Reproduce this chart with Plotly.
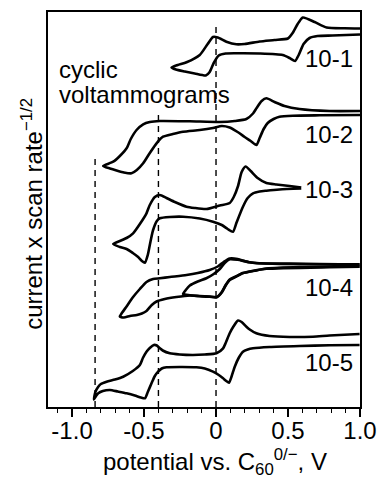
import plotly.graph_objects as go

# Cyclic voltammograms: potential (V vs. C60 0/-) and current (arb. units),
# each loop written as the positive-side start -> switching potential -> back.
cv1_potential = [1.0, 0.893, 0.768, 0.685, 0.603, 0.567, 0.532, 0.499, 0.406, 0.303,
                 0.199, 0.141, 0.072, 0.012, -0.021, -0.058, -0.113, -0.205, -0.266, -0.309,
                 -0.279, -0.217, -0.148, -0.071, -0.044, -0.016, 0.019, 0.067, 0.164, 0.303,
                 0.463, 0.511, 0.549, 0.574, 0.608, 0.650, 0.705, 0.809, 1.0]
cv1_current = [0.85, 0.87, 0.95, 1.5, 1.95, 1.3, 0.4, -0.15, -0.3, -0.45,
               -0.7, -0.73, -0.47, -0.05, 0.0, -0.7, -1.8, -2.53, -2.8, -3.05,
               -3.25, -3.45, -3.65, -3.85, -3.5, -2.6, -1.85, -1.65, -1.63, -1.65,
               -1.8, -2.1, -2.4, -1.8, -0.7, -0.1, 0.1, 0.15, 0.25]

cv2_potential = [1.0, 0.788, 0.580, 0.476, 0.407, 0.350, 0.317, 0.282, 0.257, 0.211,
                 0.130, 0.026, -0.182, -0.390, -0.460, -0.506, -0.552, -0.592, -0.621, -0.668,
                 -0.714, -0.784, -0.737, -0.691, -0.640, -0.587, -0.550, -0.506, -0.460, -0.413,
                 -0.368, -0.300, -0.229, -0.113, -0.021, 0.040, 0.095, 0.150, 0.199, 0.241,
                 0.280, 0.303, 0.331, 0.359, 0.400, 0.441, 0.534, 0.720, 1.0]
cv2_current = [0.6, 0.6, 0.8, 1.1, 1.5, 1.87, 1.6, 0.9, 0.35, -0.2,
               -0.4, -0.5, -0.43, -0.4, -0.5, -0.73, -1.3, -2.2, -3.13, -3.9,
               -4.47, -4.9, -5.15, -5.35, -5.55, -5.63, -5.3, -4.63, -3.6, -2.63,
               -1.97, -1.7, -1.47, -1.3, -1.1, -0.9, -1.05, -1.5, -2.0, -2.4,
               -2.8, -2.1, -1.2, -0.6, -0.2, 0.03, 0.13, 0.17, 0.2]

cv3_potential = [0.592, 0.511, 0.419, 0.350, 0.289, 0.241, 0.206, 0.178, 0.153, 0.123,
                 0.095, 0.026, -0.067, -0.148, -0.205, -0.286, -0.344, -0.390, -0.425, -0.460,
                 -0.483, -0.529, -0.576, -0.621, -0.668, -0.714,
                 -0.668, -0.621, -0.578, -0.541, -0.515, -0.494, -0.474, -0.453, -0.437, -0.411,
                 -0.390, -0.321, -0.229, -0.113, -0.021, 0.040, 0.081, 0.118, 0.144, 0.187,
                 0.220, 0.257, 0.303, 0.350, 0.441, 0.592]
cv3_current = [0.25, 0.4, 0.55, 0.7, 1.2, 1.9, 2.35, 1.8, 0.4, -0.7,
               -1.3, -1.55, -1.9, -1.8, -1.67, -1.2, -0.8, -0.5, -0.7, -1.5,
               -2.33, -3.4, -4.33, -4.8, -5.1, -5.4,
               -5.7, -5.9, -6.3, -6.7, -7.1, -7.27, -6.5, -5.0, -4.0, -3.1,
               -2.83, -2.7, -2.67, -2.85, -3.17, -3.5, -3.9, -4.17, -3.2, -1.67,
               -0.8, -0.33, -0.15, -0.07, 0.05, 0.15]

# 10-4: wide scan and a second, shorter scan
cv4a_potential = [0.997, 0.719, 0.511, 0.393, 0.268, 0.211, 0.150, 0.095, 0.053, 0.012,
                  -0.044, -0.127, -0.205, -0.321, -0.390, -0.437, -0.483, -0.529, -0.576, -0.619,
                  -0.654, -0.668,
                  -0.640, -0.598, -0.550, -0.515, -0.483, -0.446, -0.413, -0.356, -0.275, -0.182,
                  -0.113, -0.044, 0.005, 0.040, 0.067, 0.095, 0.137, 0.185, 0.268, 0.350,
                  0.580, 0.997]
cv4a_current = [0.35, 0.4, 0.45, 0.45, 0.5, 0.63, 0.9, 0.95, 0.6, 0.15,
                -0.2, -0.5, -0.7, -0.9, -1.03, -1.1, -1.4, -2.1, -2.9, -3.8,
                -4.5, -4.85,
                -4.95, -4.8, -4.7, -4.55, -4.3, -3.7, -3.35, -3.1, -2.9, -2.75,
                -2.8, -2.85, -2.9, -2.4, -1.7, -1.15, -0.85, -0.5, -0.25, -0.05,
                0.1, 0.15]
cv4b_potential = [0.997, 0.788, 0.350, 0.268, 0.185, 0.137, 0.095, 0.067, 0.040, 0.005,
                  -0.044, -0.113, -0.182, -0.229, -0.210, -0.182, -0.127, -0.067, -0.016, 0.026,
                  0.060, 0.095, 0.150, 0.234, 0.393, 0.788, 0.997]
cv4b_current = [0.12, 0.08, -0.08, -0.28, -0.53, -0.88, -1.2, -1.75, -2.45, -2.93,
                -2.88, -2.83, -2.72, -2.6, -2.2, -1.75, -1.35, -1.03, -0.6, -0.1,
                0.5, 0.87, 0.82, 0.58, 0.42, 0.37, 0.38]

cv5_potential = [0.997, 0.788, 0.673, 0.511, 0.372, 0.280, 0.234, 0.211, 0.178, 0.153,
                 0.123, 0.095, 0.067, 0.049, 0.003, -0.078, -0.160, -0.252, -0.321, -0.370,
                 -0.390, -0.411, -0.432, -0.460, -0.483, -0.508, -0.529, -0.578, -0.645, -0.702,
                 -0.760, -0.800, -0.818, -0.838, -0.848,
                 -0.831, -0.818, -0.786, -0.737, -0.682, -0.621, -0.564, -0.522, -0.494, -0.474,
                 -0.448, -0.425, -0.402, -0.377, -0.344, -0.252, -0.136, -0.078, -0.021, 0.019,
                 0.049, 0.071, 0.090, 0.109, 0.130, 0.157, 0.187, 0.220, 0.257, 0.372,
                 0.580, 0.788, 0.997]
cv5_current = [1.1, 0.95, 0.83, 0.8, 0.9, 1.17, 1.55, 1.83, 2.3, 2.45,
               1.9, 1.17, 0.2, -0.33, -0.83, -0.95, -1.0, -0.95, -0.83, -0.55,
               -0.33, -0.05, 0.0, -0.3, -0.67, -1.3, -2.0, -2.6, -3.17, -3.45,
               -3.67, -3.9, -4.17, -4.7, -5.45,
               -5.05, -4.83, -4.6, -4.5, -4.65, -4.83, -5.05, -5.25, -5.33, -4.7,
               -3.83, -3.1, -2.67, -2.35, -2.23, -2.2, -2.23, -2.35, -2.67, -3.0,
               -3.33, -3.6, -3.77, -3.1, -2.17, -1.3, -0.67, -0.45, -0.33, -0.2,
               -0.1, -0.03, 0.0]

sample_names = ["10-1", "10-2", "10-3", "10-4", "10-5"]
sample_scans = [
    [(cv1_potential, cv1_current)],
    [(cv2_potential, cv2_current)],
    [(cv3_potential, cv3_current)],
    [(cv4a_potential, cv4a_current), (cv4b_potential, cv4b_current)],
    [(cv5_potential, cv5_current)],
]

# vertical stacking of the curves and placement of their labels
stack_offsets = [37.0, 29.0, 21.7, 13.9, 6.2]
label_current = [-2.1, -1.7, 0.1, -1.9, -1.7]
label_potential = 0.965

# dashed guide potentials and how high each guide reaches
guide_potentials = [-0.84, -0.40, 0.0]
guide_tops = [25.2, 29.7, 38.0]

tick_values = [-1.0, -0.5, 0.0, 0.5, 1.0]
tick_labels = ["-1.0", "-0.5", "0", "0.5", "1.0"]

FONT = "Liberation Sans, Arial, sans-serif"

fig = go.Figure()

for gx, gtop in zip(guide_potentials, guide_tops):
    fig.add_shape(type="line", x0=gx, x1=gx, y0=0, y1=gtop, xref="x", yref="y",
                  line=dict(color="black", width=1.4, dash="6px,5px"), layer="below")

for name, scans, off in zip(sample_names, sample_scans, stack_offsets):
    for pot, cur in scans:
        fig.add_trace(go.Scatter(
            x=pot, y=[c + off for c in cur], mode="lines", name=name,
            line=dict(color="black", width=2.6, shape="spline", smoothing=0.6),
            showlegend=False, hoverinfo="skip"))

for name, off, ly in zip(sample_names, stack_offsets, label_current):
    fig.add_annotation(x=label_potential, y=off + ly, xref="x", yref="y",
                       text=name, showarrow=False, xanchor="right", yanchor="middle",
                       font=dict(family=FONT, size=24, color="black"))

fig.add_annotation(x=0.028, y=0.855, xref="paper", yref="paper", text="cyclic",
                   showarrow=False, xanchor="left", yanchor="middle",
                   font=dict(family=FONT, size=24, color="black"))
fig.add_annotation(x=0.028, y=0.79, xref="paper", yref="paper", text="voltammograms",
                   showarrow=False, xanchor="left", yanchor="middle",
                   font=dict(family=FONT, size=24, color="black"))

fig.add_annotation(x=0.535, y=-0.138, xref="paper", yref="paper",
                   text="potential vs. C<sub>60</sub><sup>0/\u2212</sup>, V",
                   showarrow=False, xanchor="center", yanchor="middle",
                   font=dict(family=FONT, size=24, color="black"))
fig.add_annotation(x=-0.05, y=0.49, xref="paper", yref="paper",
                   text="current x scan rate<sup>\u22121/2</sup>", textangle=-90,
                   showarrow=False, xanchor="center", yanchor="middle",
                   font=dict(family=FONT, size=24, color="black"))

fig.update_layout(
    width=379, height=478,
    margin=dict(l=48, r=19, t=12, b=71, autoexpand=False),
    paper_bgcolor="white", plot_bgcolor="white",
    showlegend=False,
    xaxis=dict(range=[-1.167, 1.0], showgrid=False, zeroline=False, automargin=False,
               showline=True, mirror=True, linecolor="black", linewidth=1.6,
               tickmode="array", tickvals=tick_values, ticktext=tick_labels,
               ticks="outside", ticklen=8, tickwidth=1.6, tickcolor="black",
               ticklabelstandoff=-7,
               minor=dict(dtick=0.1, tick0=0, ticks="outside", ticklen=4,
                          tickwidth=1.4, tickcolor="black"),
               tickfont=dict(family=FONT, size=24, color="black")),
    yaxis=dict(range=[0, 39.5], showgrid=False, zeroline=False, automargin=False,
               showline=True, mirror=True, linecolor="black", linewidth=1.6,
               ticks="", showticklabels=False),
)

fig.write_html("out.html")
